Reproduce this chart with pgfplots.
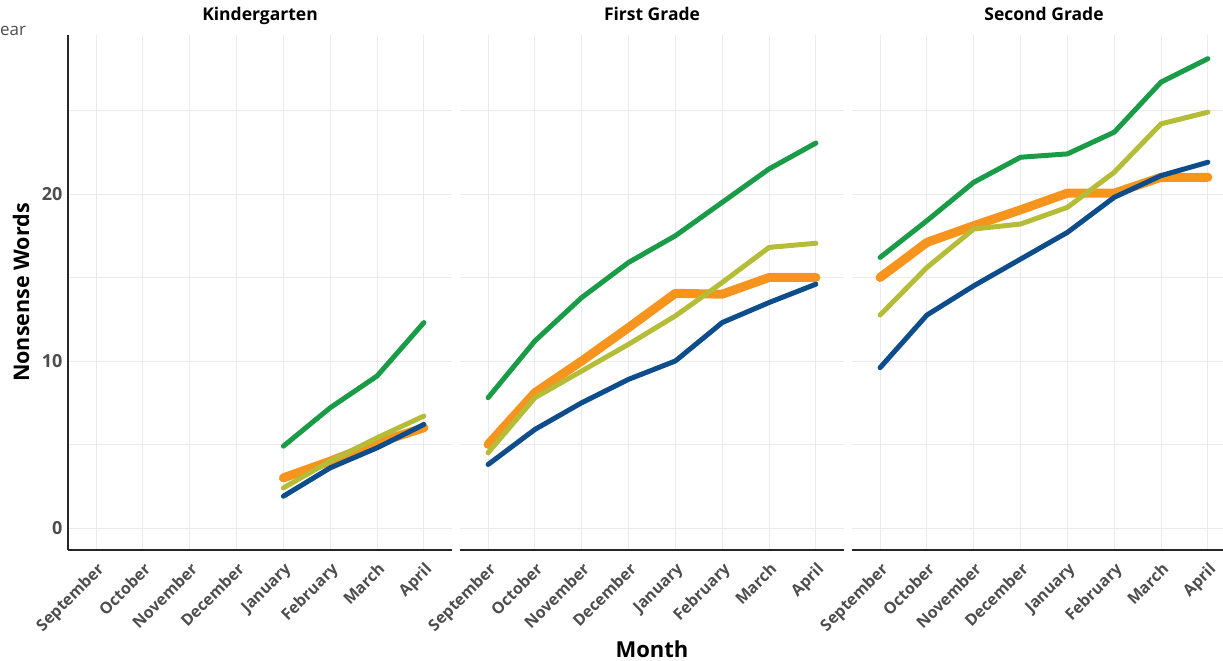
\documentclass[border=0pt]{standalone}
\usepackage{pgfplots}
\pgfplotsset{compat=1.18}
\usepackage{fontspec}
\setmainfont{Open Sans}
\definecolor{cgreen}{HTML}{1A9B48}
\definecolor{corange}{HTML}{F7941E}
\definecolor{colive}{HTML}{B5BD38}
\definecolor{cblue}{HTML}{0E4D8C}
\definecolor{tickgray}{HTML}{4D4D4D}
\definecolor{gridgray}{HTML}{EBEBEB}
\pgfplotsset{
  panel/.style={
    width=384pt, height=515pt, scale only axis,
    xmin=0.4, xmax=8.6, ymin=-1.32, ymax=29.52,
    xtick={1,2,3,4,5,6,7,8},
    xticklabels={September,October,November,December,January,February,March,April},
    ytick={0,10,20}, minor ytick={5,15,25},
    grid=both,
    major grid style={gridgray, line width=0.9pt},
    minor grid style={gridgray, line width=0.6pt},
    axis lines=left,
    axis line style={-, black!85, line width=1.2pt},
    major tick length=0pt, minor tick length=0pt,
    xticklabel style={xshift=0pt, yshift=-10pt, rotate=45, anchor=north east, font=\fontsize{16}{19}\selectfont\bfseries, text=tickgray, inner sep=1pt},
    yticklabel style={font=\fontsize{18}{21}\selectfont\bfseries, text=tickgray, xshift=-2pt},
    /pgf/number format/assume math mode=true,
    title style={font=\fontsize{17.5}{21}\selectfont\bfseries, at={(axis description cs:0.5,1)}, anchor=base, yshift=8pt, inner sep=0pt},
    clip=false,
  },
  ln/.style={line width=5pt, line cap=round, line join=round},
  lo/.style={line width=9pt, line cap=round, line join=round},
}
\begin{document}
\begin{tikzpicture}
\path[use as bounding box] (0,0) rectangle (1223pt,661pt);
\node[anchor=base west, text=tickgray, font=\fontsize{17}{20}\selectfont, inner sep=0pt] at (0pt,625pt) {ear};
% Kindergarten
\begin{axis}[panel, at={(68pt,111pt)}, anchor=south west, title={Kindergarten},
  ylabel={Nonsense Words},
  ylabel style={font=\fontsize{21.5}{25}\selectfont\bfseries, at={(axis description cs:-0.122,0.5)}, anchor=center}]
\addplot[lo, corange] coordinates {(5,3.0) (6,4.0) (7,5.1) (8,6.0)};
\addplot[ln, cgreen] coordinates {(5,4.9) (6,7.2) (7,9.1) (8,12.3)};
\addplot[ln, colive] coordinates {(5,2.4) (6,4.0) (7,5.4) (8,6.7)};
\addplot[ln, cblue] coordinates {(5,1.9) (6,3.6) (7,4.8) (8,6.2)};
\end{axis}
% First Grade
\begin{axis}[panel, at={(460pt,111pt)}, anchor=south west, title={First Grade},
  y axis line style={draw=none}, yticklabels={},
  xlabel={Month},
  xlabel style={font=\fontsize{22}{26}\selectfont\bfseries, at={(axis description cs:0.5,0)}, anchor=base, inner sep=0pt, yshift=-107pt}]
\addplot[lo, corange] coordinates {(1,5.0) (2,8.1) (3,10.0) (4,12.0) (5,14.05) (6,14.0) (7,15.0) (8,15.0)};
\addplot[ln, cgreen] coordinates {(1,7.8) (2,11.2) (3,13.8) (4,15.9) (5,17.5) (6,19.5) (7,21.5) (8,23.05)};
\addplot[ln, colive] coordinates {(1,4.5) (2,7.8) (3,9.4) (4,11.0) (5,12.7) (6,14.7) (7,16.8) (8,17.05)};
\addplot[ln, cblue] coordinates {(1,3.8) (2,5.9) (3,7.5) (4,8.9) (5,10.0) (6,12.3) (7,13.5) (8,14.6)};
\end{axis}
% Second Grade
\begin{axis}[panel, at={(852pt,111pt)}, anchor=south west, title={Second Grade},
  y axis line style={draw=none}, yticklabels={}]
\addplot[lo, corange] coordinates {(1,15.0) (2,17.1) (3,18.1) (4,19.05) (5,20.05) (6,20.05) (7,21.0) (8,21.0)};
\addplot[ln, cgreen] coordinates {(1,16.2) (2,18.4) (3,20.7) (4,22.2) (5,22.4) (6,23.7) (7,26.7) (8,28.1)};
\addplot[ln, colive] coordinates {(1,12.75) (2,15.6) (3,17.9) (4,18.2) (5,19.2) (6,21.3) (7,24.2) (8,24.9)};
\addplot[ln, cblue] coordinates {(1,9.6) (2,12.75) (3,14.5) (4,16.1) (5,17.7) (6,19.8) (7,21.1) (8,21.9)};
\end{axis}
\end{tikzpicture}
\end{document}
